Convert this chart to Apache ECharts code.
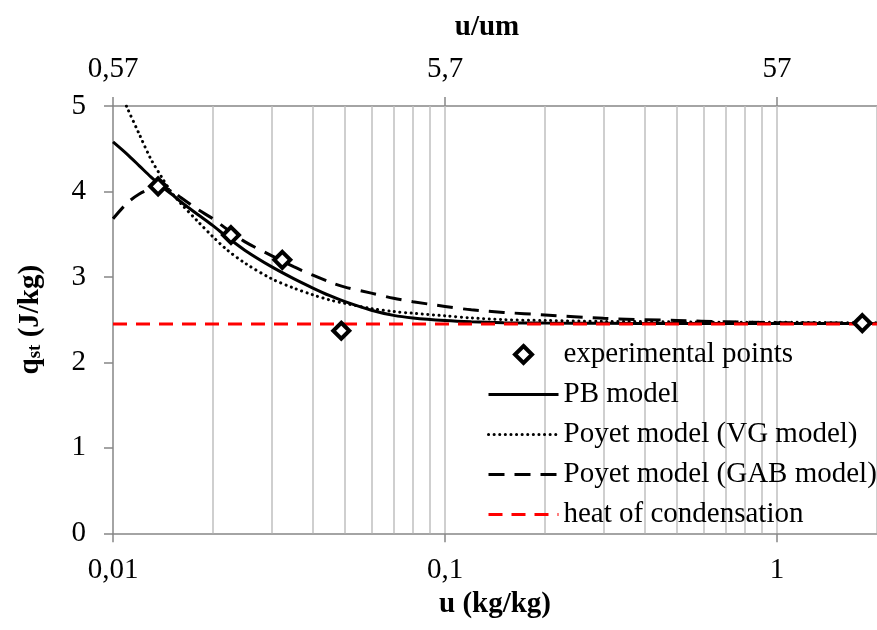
<!DOCTYPE html>
<html>
<head>
<meta charset="utf-8">
<script src="https://cdn.jsdelivr.net/npm/echarts@6/dist/echarts.min.js"></script>
<style>
  html, body { margin: 0; padding: 0; background: #ffffff; }
  #chart { width: 877px; height: 630px; }
</style>
</head>
<body>
<div id="chart"></div>
<script>
// Moisture content u (kg/kg) and isosteric heat q_st (J/kg)
const expU = [0.01367, 0.02266, 0.03235, 0.0487, 1.806];
const expQ = [4.06, 3.49, 3.20, 2.37, 2.46];

const modelU = [0.01, 0.011, 0.012, 0.013, 0.014, 0.015, 0.016, 0.018, 0.02, 0.022,
                0.025, 0.03, 0.035, 0.04, 0.045, 0.05, 0.06, 0.07, 0.08, 0.1,
                0.12, 0.15, 0.2, 0.3, 0.5, 0.7, 1, 1.5, 2];
const pbQ  = [4.58, 4.44, 4.30, 4.17, 4.06, 3.97, 3.88, 3.73, 3.60, 3.47,
              3.31, 3.12, 2.98, 2.87, 2.78, 2.71, 2.61, 2.55, 2.52, 2.49,
              2.475, 2.465, 2.46, 2.457, 2.455, 2.455, 2.455, 2.455, 2.455];
const vgQ  = [5.36, 4.99, 4.67, 4.38, 4.17, 3.99, 3.86, 3.65, 3.47, 3.32,
              3.16, 2.98, 2.87, 2.79, 2.73, 2.69, 2.63, 2.595, 2.575, 2.545,
              2.52, 2.50, 2.49, 2.48, 2.475, 2.47, 2.47, 2.465, 2.465];
const gabQ = [3.68, 3.86, 3.97, 4.03, 4.05, 4.01, 3.93, 3.79, 3.68, 3.56,
              3.41, 3.25, 3.12, 3.02, 2.94, 2.88, 2.81, 2.75, 2.71, 2.655,
              2.615, 2.585, 2.555, 2.515, 2.49, 2.475, 2.465, 2.46, 2.46];

const condU = [0.01, 2];
const condQ = [2.45, 2.45];

// Vertical grid positions on the logarithmic u axis
const gridU = [0.02, 0.03, 0.04, 0.05, 0.06, 0.07, 0.08, 0.09, 0.1,
               0.2, 0.3, 0.4, 0.5, 0.6, 0.7, 0.8, 0.9, 1, 2];

const bottomTickLabels = ['0,01', '0,1', '1'];
const topTickLabels = ['0,57', '5,7', '57'];

const seriesNames = ['experimental points', 'PB model', 'Poyet model (VG model)',
                     'Poyet model (GAB model)', 'heat of condensation'];

const FONT = 'Liberation Serif';
const AXIS_COLOR = '#868686';
const DIAMOND_ICON = 'path://M9,0L18,9L9,18L0,9Z';

function pairs(xs, ys) { return xs.map((x, i) => [x, ys[i]]); }

function decadeLabel(labels) {
  return function (v) {
    const l = Math.log10(v);
    const r = Math.round(l);
    if (Math.abs(l - r) > 1e-6) return '';
    return labels[r + 2] || '';
  };
}

const axisLineStyle = { color: AXIS_COLOR, width: 1.5 };
const labelStyle = { color: '#000', fontFamily: FONT, fontSize: 29 };
const nameStyle = { color: '#000', fontFamily: FONT, fontSize: 29, fontWeight: 'bold' };

// line-only legend entries: hide the marker drawn in the middle of the sample line
const lineLegend = name => ({ name: name, itemStyle: { opacity: 0 } });

const chart = echarts.init(document.getElementById('chart'), null, { renderer: 'canvas' });

chart.setOption({
  animation: false,
  backgroundColor: '#ffffff',
  grid: { left: 113, top: 106, width: 768.5, height: 427.3, containLabel: false },
  xAxis: [
    {
      type: 'log', logBase: 10, min: 0.01, max: 2, position: 'bottom',
      axisLine: { show: true, onZero: false, lineStyle: axisLineStyle },
      axisTick: { show: true, length: 9, lineStyle: axisLineStyle },
      axisLabel: Object.assign({ margin: 23, showMaxLabel: false, formatter: decadeLabel(bottomTickLabels) }, labelStyle),
      splitLine: { show: false },
      minorTick: { show: false },
      name: 'u (kg/kg)', nameLocation: 'middle', nameGap: 57, nameTextStyle: nameStyle
    },
    {
      type: 'log', logBase: 10, min: 0.01, max: 2, position: 'top',
      axisLine: { show: true, onZero: false, lineStyle: axisLineStyle },
      axisTick: { show: true, length: 9, lineStyle: axisLineStyle },
      axisLabel: Object.assign({ margin: 22, showMaxLabel: false, formatter: decadeLabel(topTickLabels) }, labelStyle),
      splitLine: { show: false },
      name: 'u/um', nameLocation: 'middle', nameGap: 64,
      nameTextStyle: Object.assign({ padding: [0, 16, 0, 0] }, nameStyle)
    }
  ],
  yAxis: {
    type: 'value', min: 0, max: 5, interval: 1,
    axisLine: { show: true, onZero: false, lineStyle: axisLineStyle },
    axisTick: { show: true, length: 9, lineStyle: axisLineStyle },
    axisLabel: Object.assign({ margin: 27 }, labelStyle),
    splitLine: { show: false },
    name: '{a|q}{b|st}{a| (J/kg)}',
    nameLocation: 'middle', nameGap: 68,
    nameTextStyle: {
      rich: {
        a: { fontFamily: FONT, fontSize: 29, fontWeight: 'bold', color: '#000', lineHeight: 29, verticalAlign: 'top' },
        b: { fontFamily: FONT, fontSize: 19, fontWeight: 'bold', color: '#000', lineHeight: 19, verticalAlign: 'bottom', padding: [12, 0, 0, 0] }
      }
    }
  },
  legend: {
    orient: 'vertical', left: 482, top: 335,
    itemWidth: 70, itemHeight: 17, itemGap: 11,
    selectedMode: false,
    symbolKeepAspect: true,
    lineStyle: { width: 3 },
    textStyle: { color: '#000', fontFamily: FONT, fontSize: 29 },
    data: [
      { name: seriesNames[0], icon: DIAMOND_ICON, itemStyle: { borderWidth: 4, opacity: 1 } },
      lineLegend(seriesNames[1]),
      lineLegend(seriesNames[2]),
      lineLegend(seriesNames[3]),
      lineLegend(seriesNames[4])
    ]
  },
  series: [
    {
      name: seriesNames[1], type: 'line', xAxisIndex: 0, data: pairs(modelU, pbQ),
      smooth: 0.3, symbol: 'none', z: 3, silent: true,
      itemStyle: { color: '#000' },
      lineStyle: { color: '#000', width: 3, type: 'solid' },
      markLine: {
        silent: true, symbol: ['none', 'none'], z: 1,
        label: { show: false },
        lineStyle: { color: '#bfbfbf', width: 1.5, type: 'solid' },
        emphasis: { disabled: true },
        data: gridU.map(v => ({ xAxis: v }))
      }
    },
    {
      name: seriesNames[2], type: 'line', xAxisIndex: 0, data: pairs(modelU, vgQ),
      smooth: 0.3, symbol: 'none', z: 3, silent: true,
      itemStyle: { color: '#000' },
      lineStyle: { color: '#000', width: 3, type: [0.1, 5.5], cap: 'round' }
    },
    {
      name: seriesNames[3], type: 'line', xAxisIndex: 0, data: pairs(modelU, gabQ),
      smooth: 0.3, symbol: 'none', z: 3, silent: true,
      itemStyle: { color: '#000' },
      lineStyle: { color: '#000', width: 3, type: [16, 10] }
    },
    {
      name: seriesNames[4], type: 'line', xAxisIndex: 0, data: pairs(condU, condQ),
      symbol: 'none', z: 4, silent: true,
      itemStyle: { color: '#ff0000' },
      lineStyle: { color: '#ff0000', width: 3, type: [14, 9] }
    },
    {
      name: seriesNames[0], type: 'scatter', xAxisIndex: 0, data: pairs(expU, expQ),
      symbol: 'diamond', symbolSize: 16, z: 5, silent: true,
      itemStyle: { color: '#ffffff', borderColor: '#000000', borderWidth: 4, opacity: 1 }
    }
  ]
});
</script>
</body>
</html>
